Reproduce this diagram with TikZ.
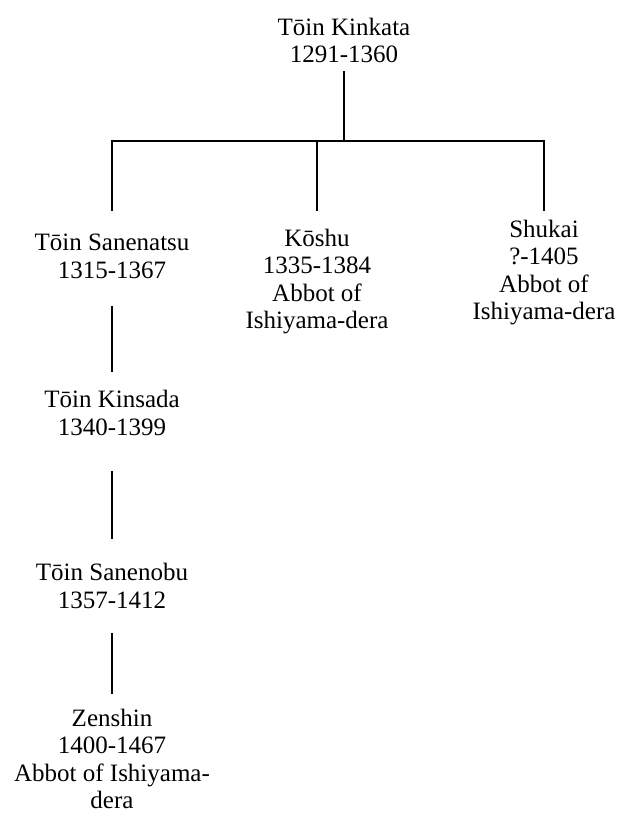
\documentclass[tikz,border=0pt]{standalone}
\usepackage{fontspec}
\setmainfont{Liberation Serif}
\usetikzlibrary{positioning}

\begin{document}
\begin{tikzpicture}[x=1pt, y=-1pt,
  person/.style={align=center, inner sep=2pt, font=\fontsize{25}{27.5}\selectfont},
  tree/.style={line width=2.8pt}]

\useasboundingbox (0,0) rectangle (621,814);

% first generation
\node[person] (kinkata) at (344,40.5) {Tōin Kinkata\\1291-1360};

% second generation
\node[person] (sanenatsu) at (112,256.5) {Tōin Sanenatsu\\1315-1367};
\node[person] (koshu) at (317,281.5) {Kōshu\\1335-1384\\Abbot of\\Ishiyama-dera};
\node[person] (shukai) at (544,272.5) {Shukai\\?-1405\\Abbot of\\Ishiyama-dera};

% line of the Tōin house
\node[person] (kinsada) at (112,413) {Tōin Kinsada\\1340-1399};
\node[person] (sanenobu) at (112,586) {Tōin Sanenobu\\1357-1412};
\node[person] (zenshin) at (112,759) {Zenshin\\1400-1467\\Abbot of Ishiyama-\\dera};

\coordinate (bar) at (344,141);
\coordinate (drop) at (0,211);

\draw[tree, shorten <=6pt] (kinkata.south) -- (kinkata.south |- bar);
\draw[tree] (sanenatsu.north |- drop) |- (bar) -| (shukai.north |- drop);
\draw[tree] (koshu.north |- bar) -- (koshu.north |- drop);

\draw[tree, shorten <=25pt, shorten >=16pt] (sanenatsu) -- (kinsada);
\draw[tree, shorten <=33pt, shorten >=22pt] (kinsada) -- (sanenobu);
\draw[tree, shorten <=22pt, shorten >=13pt] (sanenobu) -- (zenshin);

\end{tikzpicture}
\end{document}
